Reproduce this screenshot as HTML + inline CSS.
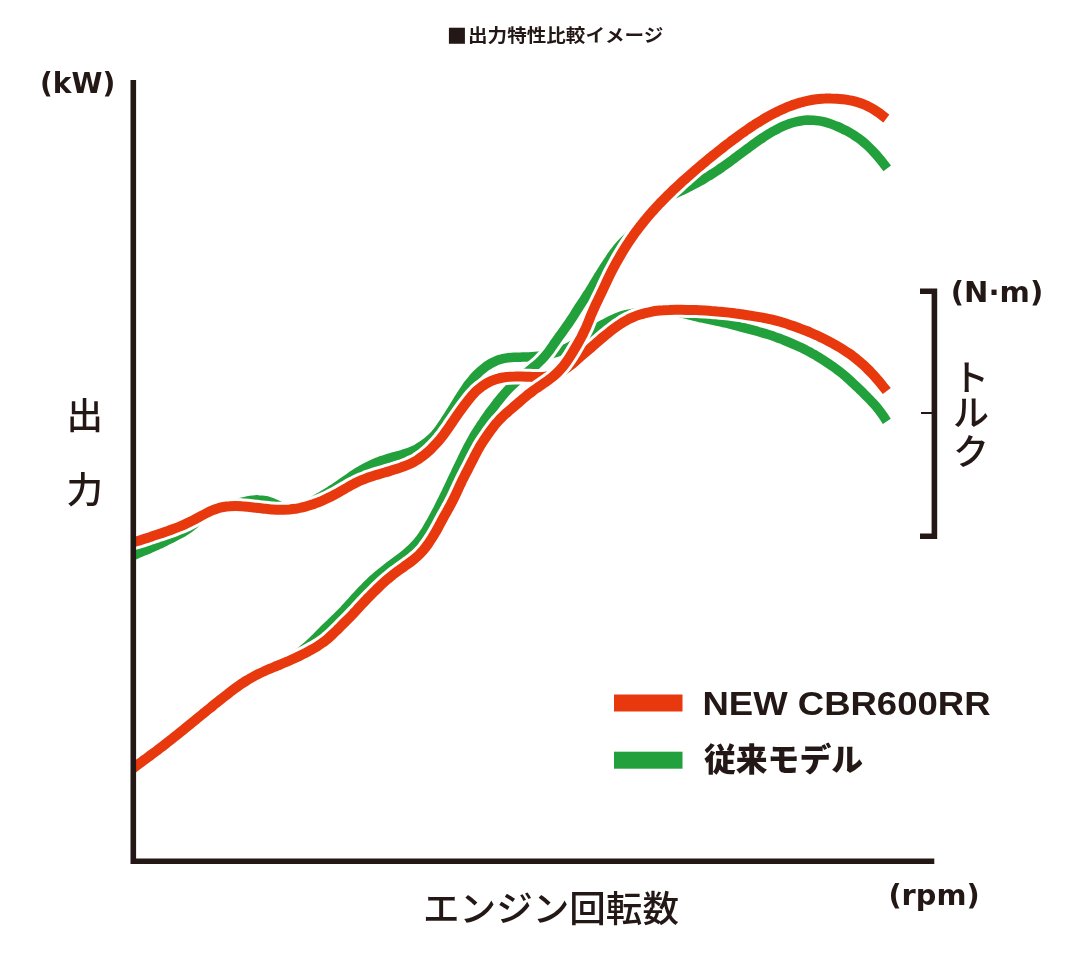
<!DOCTYPE html>
<html lang="ja">
<head>
<meta charset="utf-8">
<title>出力特性比較イメージ</title>
<style>
html,body{margin:0;padding:0;background:#fff;}
body{width:1080px;height:955px;overflow:hidden;}
svg{display:block;}
text{fill:#231815;}
.lat{font-family:"DejaVu Sans","Liberation Sans",sans-serif;font-weight:bold;}
.arial{font-family:"Liberation Sans",sans-serif;font-weight:bold;}
.jp{font-family:"Liberation Sans","Noto Sans CJK JP",sans-serif;}
</style>
</head>
<body>
<svg width="1080" height="955" viewBox="0 0 1080 955">
<rect width="1080" height="955" fill="#fff"/>
<!-- title -->
<text x="447.1" y="40.9" font-size="21" font-family="'DejaVu Sans',sans-serif">■</text>
<text class="jp" x="468" y="42.2" font-size="18" font-weight="700" textLength="195.3" lengthAdjust="spacingAndGlyphs">出力特性比較イメージ</text>
<!-- curves -->
<defs>
<clipPath id="plot"><rect x="132" y="0" width="948" height="955"/></clipPath>
<path id="gt" d="M128.1 558.2C129.0 557.7 131.6 556.3 133.4 555.5C135.2 554.6 137.1 553.8 138.9 553.0C140.7 552.2 142.6 551.5 144.4 550.7C146.3 550.0 148.1 549.3 150.0 548.4C151.9 547.6 154.0 546.7 155.9 545.8C157.8 545.0 159.6 544.1 161.4 543.3C163.2 542.4 165.0 541.5 166.7 540.6C168.5 539.7 170.3 538.8 172.1 537.9C173.9 537.0 175.6 536.1 177.4 535.1C179.2 534.2 181.0 533.3 182.7 532.3C184.4 531.3 186.1 530.3 187.8 529.1C189.4 528.0 190.9 526.9 192.5 525.5C194.1 524.2 195.8 522.6 197.3 521.2C198.9 519.9 200.3 518.5 201.8 517.3C203.4 516.0 204.9 514.8 206.6 513.7C208.2 512.6 210.0 511.6 211.7 510.8C213.5 509.9 215.4 509.1 217.2 508.5C219.1 507.8 221.0 507.3 222.9 506.8C224.9 506.3 226.8 505.8 228.8 505.4C230.7 504.9 232.7 504.5 234.6 504.0C236.6 503.5 238.4 503.0 240.4 502.6C242.5 502.1 244.7 501.5 246.7 501.1C248.8 500.7 250.7 500.3 252.6 500.1C254.6 499.9 256.6 499.8 258.6 499.9C260.5 499.9 262.5 500.1 264.4 500.5C266.4 500.8 268.3 501.4 270.1 502.0C272.0 502.6 273.8 503.5 275.6 504.2C277.5 505.0 279.3 505.9 281.1 506.6C283.0 507.3 284.8 507.9 286.8 508.4C288.8 508.8 291.1 509.1 293.1 509.1C295.1 509.1 297.0 508.8 298.9 508.4C300.8 507.9 302.6 507.2 304.4 506.4C306.2 505.6 307.9 504.6 309.6 503.6C311.3 502.6 313.0 501.4 314.6 500.4C316.3 499.3 318.0 498.2 319.7 497.2C321.4 496.2 323.2 495.2 324.9 494.1C326.6 493.1 328.3 492.0 330.0 490.9C331.6 489.9 333.2 488.8 335.0 487.7C336.7 486.5 338.6 485.2 340.4 484.0C342.1 482.8 343.6 481.7 345.3 480.6C346.9 479.4 348.6 478.3 350.2 477.2C351.9 476.0 353.5 474.9 355.2 473.8C356.9 472.7 358.5 471.6 360.3 470.6C362.0 469.6 363.7 468.6 365.5 467.7C367.2 466.7 369.0 465.8 370.8 465.0C372.6 464.2 374.4 463.4 376.3 462.6C378.3 461.9 380.5 461.0 382.4 460.4C384.4 459.7 386.2 459.1 388.1 458.5C390.0 457.9 391.9 457.4 393.9 456.8C395.8 456.3 397.7 455.8 399.7 455.3C401.6 454.7 403.5 454.2 405.4 453.6C407.3 453.0 409.2 452.4 411.0 451.6C412.9 450.8 414.7 450.0 416.4 449.1C418.2 448.1 419.9 447.1 421.5 446.0C423.2 444.9 424.8 443.8 426.4 442.5C428.0 441.2 429.8 439.8 431.3 438.3C432.9 436.9 434.2 435.5 435.5 434.0C436.8 432.6 438.0 431.0 439.2 429.4C440.4 427.8 441.5 426.1 442.6 424.4C443.8 422.8 444.8 421.1 445.9 419.4C447.0 417.8 448.1 416.1 449.2 414.4C450.2 412.7 451.3 411.0 452.3 409.3C453.4 407.6 454.4 406.0 455.5 404.2C456.6 402.4 457.8 400.4 458.9 398.6C460.0 396.9 461.0 395.2 462.1 393.6C463.2 391.9 464.3 390.2 465.4 388.6C466.6 386.9 467.7 385.3 468.9 383.7C470.2 382.1 471.4 380.6 472.7 379.1C474.0 377.5 475.3 376.1 476.7 374.6C478.1 373.2 479.5 371.8 481.0 370.5C482.5 369.2 484.1 367.9 485.7 366.7C487.3 365.6 488.9 364.5 490.7 363.5C492.5 362.5 494.5 361.4 496.4 360.7C498.3 359.9 500.2 359.3 502.1 358.9C504.0 358.4 506.0 358.1 507.9 357.8C509.9 357.6 511.9 357.4 513.9 357.3C515.9 357.2 517.9 357.2 519.9 357.2C521.9 357.1 523.9 357.1 525.9 357.0C527.9 357.0 529.9 356.9 531.9 356.8C533.9 356.7 535.9 356.5 537.8 356.3C539.8 356.1 541.7 355.8 543.8 355.5C545.8 355.1 548.1 354.6 550.1 354.1C552.1 353.6 554.0 353.1 555.9 352.5C557.8 351.8 559.6 351.1 561.5 350.4C563.3 349.6 565.2 348.8 567.0 348.0C568.7 347.1 570.5 346.1 572.2 345.1C574.0 344.2 575.7 343.1 577.4 342.0C579.0 340.9 580.7 339.8 582.3 338.6C583.9 337.5 585.5 336.3 587.2 335.1C588.9 333.9 590.7 332.5 592.4 331.3C594.1 330.0 595.7 328.9 597.3 327.9C599.0 326.8 600.7 325.7 602.4 324.8C604.2 323.8 605.9 322.9 607.7 322.0C609.5 321.1 611.3 320.2 613.2 319.4C615.0 318.6 616.8 317.7 618.7 317.0C620.5 316.3 622.4 315.6 624.3 315.1C626.2 314.6 628.2 314.2 630.1 313.9C632.1 313.5 634.0 313.3 636.0 313.1C638.1 312.8 640.4 312.5 642.5 312.2C644.5 312.0 646.4 311.7 648.4 311.4C650.4 311.2 652.4 310.9 654.4 310.8C656.4 310.6 658.4 310.5 660.3 310.5C662.3 310.5 664.3 310.6 666.3 310.7C668.3 310.9 670.3 311.1 672.3 311.4C674.3 311.6 676.2 312.0 678.2 312.4C680.2 312.7 682.0 313.2 684.1 313.6C686.1 314.1 688.4 314.6 690.4 315.1C692.4 315.6 694.3 316.1 696.2 316.6C698.2 317.0 700.1 317.5 702.1 317.9C704.0 318.3 706.0 318.7 707.9 319.1C709.9 319.6 711.8 319.9 713.8 320.4C715.8 320.8 717.7 321.2 719.7 321.6C721.6 322.1 723.6 322.5 725.5 323.0C727.4 323.5 729.4 324.0 731.3 324.5C733.2 325.0 735.1 325.5 737.1 326.0C739.1 326.5 741.4 327.1 743.4 327.7C745.4 328.2 747.3 328.7 749.2 329.2C751.1 329.7 753.1 330.2 755.0 330.7C756.9 331.2 758.9 331.8 760.8 332.3C762.7 332.8 764.6 333.4 766.6 334.0C768.5 334.6 770.4 335.2 772.3 335.8C774.2 336.5 776.0 337.2 777.9 337.9C779.8 338.5 781.6 339.3 783.5 340.0C785.4 340.8 787.6 341.7 789.5 342.5C791.4 343.3 793.2 344.1 795.0 344.9C796.9 345.7 798.7 346.5 800.5 347.3C802.3 348.2 804.1 349.0 805.9 349.9C807.7 350.8 809.4 351.8 811.2 352.8C812.9 353.7 814.6 354.8 816.4 355.8C818.1 356.8 819.8 357.9 821.5 359.0C823.1 360.0 824.8 361.1 826.5 362.2C828.2 363.3 829.8 364.4 831.5 365.6C833.2 366.8 835.1 368.1 836.7 369.4C838.4 370.6 839.9 371.8 841.5 373.0C843.0 374.3 844.6 375.6 846.1 376.9C847.6 378.2 849.1 379.5 850.5 380.9C852.0 382.2 853.5 383.6 854.9 385.0C856.4 386.4 857.8 387.7 859.3 389.1C860.7 390.5 862.2 391.9 863.6 393.3C865.0 394.7 866.4 396.1 867.8 397.6C869.3 399.0 870.9 400.7 872.3 402.3C873.7 403.8 875.0 405.2 876.3 406.7C877.5 408.3 878.8 409.8 880.0 411.4C881.2 413.0 882.4 414.6 883.5 416.3C884.6 417.9 886.2 420.5 886.8 421.4"/>
<path id="gp" d="M128.1 772.1C128.9 771.5 131.4 769.7 133.0 768.5C134.6 767.4 136.2 766.2 137.8 765.0C139.4 763.8 141.0 762.6 142.6 761.4C144.2 760.2 145.7 759.0 147.4 757.7C149.0 756.5 150.9 755.1 152.5 753.8C154.2 752.5 155.7 751.4 157.3 750.1C158.9 748.9 160.5 747.7 162.0 746.5C163.6 745.3 165.2 744.0 166.8 742.8C168.3 741.6 169.9 740.3 171.5 739.1C173.1 737.9 174.6 736.6 176.2 735.4C177.8 734.1 179.3 732.9 180.9 731.6C182.5 730.4 184.0 729.2 185.6 727.9C187.2 726.6 189.0 725.1 190.7 723.8C192.3 722.5 193.8 721.3 195.3 720.1C196.9 718.8 198.4 717.6 200.0 716.3C201.5 715.0 203.1 713.8 204.6 712.5C206.2 711.2 207.7 710.0 209.3 708.7C210.8 707.4 212.4 706.2 213.9 704.9C215.5 703.7 217.0 702.4 218.6 701.1C220.2 699.9 221.6 698.7 223.3 697.4C224.9 696.1 226.8 694.7 228.4 693.4C230.1 692.1 231.6 691.0 233.2 689.8C234.8 688.6 236.4 687.4 238.1 686.3C239.7 685.1 241.4 684.0 243.0 682.9C244.7 681.8 246.4 680.7 248.1 679.7C249.8 678.7 251.5 677.7 253.3 676.7C255.0 675.7 256.8 674.8 258.6 673.9C260.4 673.0 262.2 672.1 264.0 671.3C265.8 670.4 267.5 669.7 269.5 668.8C271.4 668.0 273.5 667.2 275.5 666.4C277.4 665.6 279.2 664.8 281.0 664.0C282.8 663.2 284.6 662.3 286.3 661.3C288.0 660.3 289.7 659.3 291.4 658.2C293.1 657.1 294.7 656.0 296.3 654.8C297.9 653.6 299.5 652.4 301.1 651.2C302.7 649.9 304.2 648.7 305.7 647.4C307.3 646.1 308.7 644.8 310.2 643.4C311.7 642.0 313.4 640.4 314.9 638.9C316.4 637.4 317.7 636.0 319.1 634.6C320.5 633.2 321.9 631.7 323.3 630.3C324.7 628.9 326.2 627.5 327.6 626.2C329.1 624.8 330.5 623.5 332.0 622.1C333.4 620.7 334.9 619.3 336.3 617.9C337.8 616.5 339.2 615.1 340.6 613.7C342.0 612.2 343.3 610.9 344.7 609.3C346.1 607.8 347.7 606.1 349.1 604.6C350.5 603.0 351.8 601.6 353.1 600.1C354.5 598.6 355.8 597.1 357.1 595.7C358.5 594.2 359.9 592.7 361.2 591.3C362.6 589.8 364.0 588.4 365.4 586.9C366.8 585.5 368.2 584.1 369.7 582.7C371.1 581.4 372.6 580.0 374.1 578.7C375.6 577.3 377.1 576.0 378.6 574.8C380.1 573.5 381.6 572.3 383.3 571.0C384.9 569.7 386.8 568.3 388.4 567.0C390.1 565.8 391.6 564.6 393.2 563.4C394.8 562.2 396.4 561.0 398.0 559.8C399.6 558.6 401.2 557.4 402.8 556.1C404.3 554.9 405.9 553.6 407.4 552.3C408.9 551.0 410.4 549.7 411.8 548.3C413.2 546.9 414.6 545.5 416.0 544.0C417.3 542.5 418.5 541.1 419.8 539.4C421.1 537.8 422.4 535.9 423.6 534.1C424.7 532.4 425.8 530.8 426.8 529.1C427.8 527.4 428.8 525.7 429.8 523.9C430.8 522.2 431.8 520.4 432.8 518.7C433.7 516.9 434.6 515.2 435.6 513.4C436.5 511.6 437.4 509.8 438.3 508.1C439.2 506.3 440.1 504.5 441.0 502.7C441.9 500.9 442.8 499.2 443.7 497.3C444.6 495.4 445.6 493.3 446.5 491.5C447.4 489.6 448.3 487.9 449.1 486.1C450.0 484.2 450.8 482.4 451.7 480.6C452.5 478.8 453.4 477.0 454.3 475.2C455.1 473.4 456.0 471.6 456.8 469.8C457.7 468.0 458.5 466.2 459.4 464.4C460.3 462.6 461.1 460.8 462.0 459.0C462.9 457.2 463.7 455.4 464.6 453.6C465.5 451.8 466.4 450.1 467.3 448.2C468.3 446.4 469.4 444.3 470.4 442.5C471.4 440.6 472.3 439.0 473.3 437.2C474.3 435.5 475.3 433.8 476.4 432.1C477.5 430.4 478.5 428.7 479.6 427.1C480.7 425.4 481.9 423.7 483.0 422.1C484.1 420.4 485.2 418.8 486.4 417.1C487.5 415.5 488.6 413.8 489.8 412.2C491.0 410.6 492.1 409.0 493.4 407.4C494.6 405.7 496.0 403.9 497.3 402.2C498.6 400.6 499.8 399.1 501.1 397.6C502.4 396.0 503.7 394.5 505.0 393.0C506.3 391.5 507.7 390.0 509.0 388.6C510.4 387.1 511.8 385.7 513.3 384.3C514.7 382.9 516.2 381.6 517.7 380.2C519.1 378.9 520.7 377.6 522.2 376.3C523.7 375.0 525.2 373.8 526.8 372.5C528.5 371.2 530.3 369.8 531.9 368.4C533.5 367.1 535.0 365.9 536.5 364.6C538.0 363.3 539.5 361.9 540.9 360.5C542.3 359.1 543.6 357.6 544.9 356.1C546.2 354.6 547.5 353.1 548.7 351.5C549.9 349.9 551.0 348.2 552.1 346.6C553.3 344.9 554.4 343.3 555.6 341.7C556.7 340.0 557.8 338.4 559.0 336.7C560.2 335.1 561.3 333.6 562.5 331.9C563.7 330.2 565.1 328.3 566.3 326.6C567.5 324.9 568.6 323.3 569.7 321.7C570.8 320.0 571.9 318.3 573.0 316.7C574.1 315.0 575.1 313.3 576.2 311.6C577.3 309.9 578.4 308.2 579.4 306.5C580.5 304.9 581.6 303.2 582.7 301.5C583.8 299.8 585.0 298.2 586.0 296.5C587.1 294.8 588.2 293.2 589.3 291.5C590.4 289.7 591.6 287.7 592.7 285.9C593.7 284.1 594.7 282.5 595.7 280.8C596.8 279.1 597.8 277.4 598.9 275.7C599.9 274.0 601.0 272.3 602.1 270.6C603.2 268.9 604.3 267.2 605.3 265.5C606.4 263.9 607.5 262.2 608.6 260.5C609.7 258.9 610.8 257.2 612.0 255.5C613.1 253.9 614.2 252.3 615.5 250.7C616.7 249.0 618.2 247.2 619.6 245.7C620.9 244.1 622.3 242.7 623.7 241.3C625.1 239.9 626.5 238.5 628.0 237.1C629.4 235.7 630.9 234.4 632.3 233.0C633.7 231.6 635.2 230.2 636.6 228.7C638.0 227.3 639.3 225.9 640.7 224.4C642.1 223.0 643.4 221.5 644.7 220.0C646.0 218.5 647.3 217.0 648.6 215.4C649.9 213.9 651.2 212.4 652.5 210.9C653.9 209.3 655.4 207.5 656.9 206.0C658.3 204.5 659.6 203.2 661.2 201.9C662.7 200.6 664.3 199.5 665.9 198.4C667.6 197.3 669.3 196.4 671.1 195.5C672.9 194.6 674.7 193.8 676.5 192.9C678.3 192.1 680.2 191.2 682.0 190.4C683.8 189.5 685.6 188.6 687.4 187.8C689.2 186.9 690.9 186.0 692.7 185.1C694.6 184.1 696.6 183.0 698.5 182.0C700.3 181.0 702.0 180.1 703.7 179.1C705.4 178.1 707.1 177.0 708.8 176.0C710.5 174.9 712.2 173.9 713.9 172.8C715.6 171.7 717.2 170.6 718.9 169.5C720.5 168.3 722.2 167.2 723.8 166.0C725.5 164.9 727.1 163.7 728.7 162.6C730.3 161.4 731.9 160.2 733.5 159.0C735.2 157.8 737.1 156.4 738.8 155.1C740.4 153.9 742.0 152.7 743.6 151.5C745.2 150.3 746.8 149.1 748.4 148.0C750.0 146.8 751.6 145.6 753.2 144.4C754.8 143.2 756.5 142.1 758.1 140.9C759.7 139.8 761.4 138.7 763.1 137.5C764.7 136.4 766.4 135.4 768.1 134.3C769.8 133.2 771.5 132.2 773.3 131.2C775.0 130.3 776.7 129.3 778.5 128.4C780.4 127.5 782.5 126.5 784.4 125.7C786.3 124.9 788.1 124.2 790.0 123.5C791.9 122.9 793.8 122.3 795.7 121.9C797.7 121.4 799.6 121.0 801.6 120.7C803.6 120.4 805.5 120.2 807.5 120.1C809.5 120.1 811.5 120.1 813.5 120.2C815.5 120.3 817.4 120.6 819.4 120.9C821.4 121.2 823.2 121.6 825.2 122.1C827.2 122.7 829.5 123.4 831.4 124.1C833.4 124.8 835.2 125.5 837.0 126.3C838.8 127.0 840.6 127.9 842.4 128.8C844.2 129.6 846.0 130.6 847.8 131.5C849.5 132.5 851.2 133.5 852.9 134.5C854.6 135.6 856.3 136.7 857.9 137.8C859.5 139.0 861.1 140.2 862.7 141.5C864.2 142.7 865.7 144.0 867.2 145.4C868.7 146.8 870.4 148.5 871.9 150.0C873.3 151.5 874.6 152.9 876.0 154.4C877.3 155.9 878.6 157.5 879.9 159.0C881.1 160.5 882.4 162.1 883.6 163.7C884.8 165.2 886.6 167.6 887.2 168.4"/>
<path id="rt" d="M128.0 543.3C128.9 543.1 131.9 542.5 133.8 542.0C135.7 541.5 137.7 541.0 139.6 540.4C141.5 539.8 143.4 539.2 145.3 538.6C147.2 538.0 149.1 537.3 151.0 536.7C152.9 536.0 154.7 535.4 156.7 534.8C158.6 534.1 160.9 533.4 162.8 532.7C164.8 532.0 166.6 531.4 168.5 530.8C170.4 530.1 172.3 529.4 174.1 528.7C176.0 528.0 177.9 527.3 179.7 526.5C181.6 525.7 183.4 524.9 185.2 524.1C187.0 523.3 188.8 522.4 190.6 521.5C192.4 520.6 194.2 519.7 196.0 518.8C197.7 517.8 199.5 516.8 201.2 515.9C203.0 514.9 204.7 514.0 206.5 513.1C208.3 512.2 210.1 511.3 211.9 510.5C213.7 509.7 215.6 509.0 217.5 508.4C219.4 507.8 221.2 507.4 223.3 507.0C225.3 506.6 227.6 506.3 229.7 506.2C231.7 506.0 233.6 506.0 235.6 506.0C237.6 506.0 239.6 506.1 241.6 506.3C243.6 506.4 245.6 506.6 247.6 506.8C249.6 507.0 251.6 507.2 253.6 507.4C255.5 507.6 257.5 507.9 259.5 508.1C261.5 508.3 263.5 508.6 265.5 508.8C267.5 509.0 269.5 509.2 271.5 509.4C273.4 509.5 275.4 509.7 277.4 509.7C279.4 509.8 281.4 509.8 283.4 509.8C285.4 509.7 287.4 509.6 289.4 509.5C291.4 509.3 293.3 509.1 295.3 508.8C297.4 508.4 299.7 508.0 301.7 507.5C303.7 507.1 305.6 506.6 307.5 506.0C309.4 505.5 311.3 504.8 313.2 504.2C315.1 503.5 316.9 502.8 318.8 502.1C320.7 501.3 322.5 500.5 324.3 499.7C326.1 498.9 328.0 498.1 329.7 497.2C331.5 496.3 333.3 495.4 335.1 494.4C336.8 493.5 338.6 492.5 340.3 491.5C342.1 490.5 343.8 489.5 345.5 488.5C347.2 487.5 349.0 486.5 350.7 485.5C352.5 484.6 354.2 483.6 356.0 482.7C357.8 481.9 359.5 481.0 361.5 480.2C363.4 479.4 365.5 478.6 367.5 477.8C369.4 477.1 371.3 476.5 373.2 475.9C375.1 475.3 377.0 474.8 378.9 474.2C380.8 473.6 382.7 473.0 384.7 472.5C386.6 471.9 388.5 471.3 390.4 470.8C392.3 470.2 394.2 469.6 396.1 469.0C398.0 468.4 400.0 467.8 401.8 467.1C403.7 466.4 405.6 465.8 407.4 465.0C409.3 464.2 411.1 463.4 412.9 462.5C414.6 461.6 416.4 460.6 418.0 459.5C419.7 458.4 421.3 457.3 422.9 456.1C424.5 454.9 426.0 453.6 427.5 452.3C429.1 450.9 430.8 449.3 432.2 447.8C433.7 446.3 435.0 444.9 436.4 443.4C437.7 442.0 439.0 440.4 440.3 438.9C441.5 437.3 442.8 435.8 444.0 434.2C445.2 432.6 446.3 431.0 447.5 429.3C448.7 427.7 449.8 426.0 450.9 424.4C452.0 422.7 453.2 421.1 454.3 419.4C455.4 417.8 456.5 416.1 457.7 414.5C458.8 412.9 460.0 411.2 461.2 409.6C462.3 408.0 463.5 406.4 464.7 404.8C465.9 403.2 467.2 401.6 468.4 400.0C469.7 398.5 470.9 397.0 472.2 395.4C473.6 393.9 475.2 392.1 476.7 390.7C478.2 389.3 479.7 388.1 481.3 386.9C482.8 385.7 484.5 384.6 486.2 383.6C487.9 382.6 489.7 381.7 491.5 380.9C493.4 380.1 495.2 379.4 497.1 378.9C499.0 378.3 500.9 377.9 502.9 377.5C504.9 377.2 506.8 376.9 508.8 376.8C510.8 376.6 512.8 376.5 514.8 376.5C516.8 376.4 518.8 376.5 520.8 376.5C522.8 376.5 524.8 376.6 526.8 376.7C528.8 376.7 530.7 376.9 532.8 376.9C534.9 377.0 537.2 377.1 539.3 377.0C541.3 377.0 543.3 376.9 545.2 376.7C547.2 376.5 549.1 376.2 551.0 375.7C552.9 375.2 554.8 374.5 556.6 373.8C558.4 373.0 560.2 372.1 561.9 371.1C563.7 370.1 565.4 369.0 567.0 367.9C568.6 366.7 570.2 365.5 571.8 364.3C573.3 363.0 574.8 361.7 576.3 360.4C577.9 359.1 579.3 357.8 580.8 356.4C582.3 355.1 583.9 353.8 585.4 352.5C586.9 351.2 588.4 350.0 589.9 348.6C591.4 347.3 592.9 346.1 594.4 344.7C596.0 343.3 597.7 341.8 599.3 340.4C600.9 339.0 602.3 337.8 603.9 336.5C605.4 335.3 607.0 334.0 608.5 332.8C610.1 331.5 611.7 330.3 613.3 329.1C614.9 327.9 616.5 326.7 618.1 325.5C619.8 324.4 621.4 323.3 623.1 322.2C624.8 321.2 626.6 320.2 628.3 319.3C630.1 318.4 631.9 317.6 633.8 316.8C635.6 316.1 637.5 315.4 639.4 314.8C641.3 314.2 643.2 313.6 645.1 313.1C647.1 312.6 649.0 312.2 651.0 311.8C652.9 311.4 654.8 311.1 656.9 310.8C658.9 310.5 661.3 310.3 663.3 310.2C665.4 310.0 667.3 309.9 669.3 309.9C671.3 309.8 673.3 309.8 675.3 309.8C677.3 309.8 679.3 309.8 681.3 309.8C683.3 309.8 685.3 309.8 687.3 309.9C689.3 309.9 691.3 310.0 693.3 310.0C695.3 310.1 697.3 310.1 699.3 310.2C701.3 310.3 703.3 310.4 705.3 310.5C707.3 310.6 709.3 310.7 711.3 310.9C713.3 311.0 715.3 311.2 717.3 311.4C719.3 311.5 721.3 311.7 723.3 312.0C725.2 312.2 727.1 312.4 729.2 312.6C731.3 312.9 733.6 313.2 735.7 313.5C737.7 313.7 739.6 314.0 741.6 314.3C743.6 314.6 745.6 314.9 747.5 315.2C749.5 315.5 751.5 315.8 753.5 316.1C755.4 316.4 757.4 316.8 759.4 317.1C761.4 317.4 763.3 317.8 765.3 318.2C767.3 318.6 769.2 319.0 771.2 319.4C773.1 319.9 775.0 320.4 777.0 320.9C778.9 321.4 780.8 321.9 782.7 322.5C784.6 323.1 786.6 323.7 788.4 324.4C790.3 325.0 792.2 325.6 794.1 326.3C796.0 327.0 797.8 327.6 799.8 328.4C801.7 329.1 803.9 329.9 805.8 330.7C807.8 331.5 809.5 332.2 811.4 333.0C813.2 333.8 815.0 334.6 816.9 335.4C818.7 336.3 820.5 337.1 822.3 338.0C824.1 338.8 825.9 339.7 827.6 340.7C829.4 341.6 831.2 342.5 832.9 343.5C834.7 344.5 836.4 345.4 838.1 346.5C839.9 347.5 841.6 348.5 843.2 349.6C844.9 350.7 846.6 351.8 848.2 352.9C849.9 354.1 851.5 355.2 853.1 356.4C854.7 357.7 856.3 358.9 857.8 360.2C859.4 361.4 860.8 362.7 862.4 364.1C863.9 365.4 865.6 367.0 867.1 368.5C868.6 369.9 870.0 371.3 871.3 372.8C872.7 374.2 874.1 375.7 875.4 377.2C876.7 378.7 878.1 380.2 879.3 381.7C880.6 383.2 881.9 384.8 883.1 386.4C884.4 387.9 886.2 390.3 886.8 391.1"/>
<path id="rp" d="M128.1 772.6C128.8 771.9 131.1 770.0 132.7 768.7C134.2 767.5 135.8 766.2 137.4 765.0C138.9 763.8 140.6 762.6 142.2 761.4C143.8 760.2 145.4 759.1 147.0 757.9C148.6 756.7 150.2 755.6 151.9 754.3C153.5 753.1 155.4 751.7 157.1 750.5C158.7 749.2 160.3 748.0 161.9 746.8C163.4 745.6 165.0 744.4 166.6 743.1C168.2 741.9 169.7 740.7 171.3 739.4C172.9 738.2 174.4 737.0 176.0 735.7C177.6 734.5 179.1 733.2 180.7 731.9C182.2 730.7 183.8 729.4 185.3 728.2C186.9 726.9 188.5 725.6 190.0 724.4C191.5 723.1 193.1 721.8 194.6 720.6C196.2 719.3 197.7 718.0 199.3 716.8C200.8 715.5 202.3 714.3 203.9 713.0C205.5 711.7 207.3 710.2 209.0 708.9C210.6 707.6 212.1 706.4 213.6 705.1C215.2 703.9 216.8 702.6 218.3 701.4C219.9 700.1 221.5 698.9 223.0 697.7C224.6 696.4 226.2 695.2 227.8 694.0C229.4 692.7 230.9 691.5 232.5 690.3C234.1 689.1 235.7 687.9 237.4 686.8C239.0 685.6 240.6 684.4 242.3 683.3C243.9 682.2 245.6 681.1 247.3 680.1C249.0 679.0 250.8 678.0 252.5 677.1C254.3 676.1 256.0 675.2 257.8 674.3C259.7 673.3 261.8 672.3 263.7 671.5C265.6 670.6 267.3 669.8 269.2 669.0C271.0 668.3 272.9 667.5 274.7 666.7C276.6 666.0 278.4 665.2 280.3 664.5C282.1 663.7 284.0 662.9 285.8 662.2C287.7 661.4 289.5 660.6 291.3 659.8C293.1 659.0 295.0 658.1 296.8 657.3C298.6 656.4 300.3 655.5 302.1 654.6C303.9 653.7 305.7 652.8 307.5 651.8C309.2 650.9 311.0 650.0 312.7 649.0C314.5 648.0 316.1 647.0 317.9 645.9C319.6 644.8 321.6 643.5 323.2 642.3C324.9 641.1 326.4 639.8 327.9 638.6C329.4 637.3 330.9 635.9 332.4 634.5C333.8 633.2 335.2 631.8 336.7 630.4C338.1 629.0 339.5 627.6 340.9 626.1C342.4 624.7 343.8 623.3 345.2 621.9C346.6 620.5 348.0 619.1 349.4 617.7C350.8 616.3 352.2 614.8 353.6 613.3C354.9 611.9 356.3 610.4 357.6 608.9C359.0 607.5 360.4 606.0 361.7 604.5C363.1 603.1 364.4 601.7 365.8 600.2C367.3 598.7 368.9 597.0 370.4 595.5C371.8 594.0 373.2 592.7 374.6 591.3C376.0 589.8 377.4 588.4 378.9 587.1C380.3 585.7 381.8 584.3 383.3 582.9C384.7 581.6 386.2 580.3 387.7 579.0C389.3 577.7 390.8 576.4 392.4 575.2C394.0 573.9 395.6 572.8 397.2 571.6C398.8 570.4 400.4 569.2 402.0 568.1C403.7 566.9 405.3 565.8 406.9 564.6C408.6 563.4 410.2 562.3 411.8 561.0C413.3 559.8 414.9 558.6 416.4 557.2C417.9 555.9 419.6 554.3 421.0 552.7C422.5 551.2 423.7 549.8 424.9 548.2C426.2 546.7 427.3 545.0 428.5 543.4C429.6 541.8 430.7 540.1 431.8 538.4C432.9 536.7 433.9 535.0 434.9 533.3C435.9 531.6 436.9 529.8 437.9 528.1C438.8 526.3 439.7 524.5 440.7 522.8C441.6 521.0 442.6 519.3 443.5 517.5C444.5 515.7 445.5 514.0 446.5 512.3C447.4 510.5 448.4 508.8 449.4 507.0C450.4 505.3 451.3 503.6 452.2 501.7C453.2 499.9 454.2 497.8 455.1 495.9C456.0 494.0 456.8 492.3 457.6 490.5C458.4 488.7 459.3 486.8 460.1 485.0C461.0 483.2 461.8 481.4 462.7 479.6C463.6 477.8 464.5 476.1 465.4 474.3C466.3 472.5 467.3 470.7 468.2 468.9C469.1 467.2 470.0 465.4 470.9 463.6C471.8 461.8 472.7 460.0 473.6 458.3C474.5 456.5 475.4 454.7 476.4 452.9C477.3 451.1 478.2 449.4 479.2 447.7C480.2 445.9 481.2 444.3 482.4 442.5C483.5 440.8 484.8 438.9 486.0 437.2C487.2 435.4 488.3 433.9 489.4 432.2C490.6 430.6 491.8 429.0 493.0 427.4C494.2 425.8 495.4 424.3 496.7 422.8C498.1 421.3 499.4 419.8 500.8 418.4C502.2 417.0 503.7 415.6 505.2 414.2C506.6 412.9 508.2 411.6 509.7 410.3C511.2 409.0 512.7 407.7 514.2 406.4C515.7 405.1 517.2 403.8 518.8 402.5C520.3 401.1 521.8 399.8 523.3 398.5C524.8 397.2 526.3 396.0 527.9 394.7C529.5 393.4 531.4 392.0 533.1 390.8C534.8 389.5 536.3 388.5 538.0 387.3C539.6 386.2 541.3 385.1 542.9 383.9C544.6 382.8 546.2 381.7 547.9 380.5C549.5 379.3 551.1 378.1 552.6 376.9C554.2 375.6 555.7 374.3 557.1 372.9C558.5 371.5 559.9 370.1 561.2 368.6C562.5 367.1 563.7 365.5 564.9 363.9C566.1 362.3 567.3 360.7 568.4 359.0C569.5 357.4 570.6 355.7 571.6 354.0C572.7 352.3 573.7 350.6 574.7 348.8C575.8 347.0 577.0 345.0 578.0 343.2C579.0 341.4 580.0 339.7 580.9 338.0C581.8 336.2 582.8 334.4 583.6 332.6C584.5 330.8 585.4 329.0 586.2 327.2C587.0 325.4 587.7 323.5 588.5 321.7C589.3 319.8 590.0 318.0 590.7 316.1C591.5 314.3 592.3 312.4 593.1 310.6C593.9 308.7 594.7 306.9 595.5 305.1C596.4 303.3 597.2 301.5 598.1 299.7C599.0 297.9 599.9 296.1 600.7 294.3C601.6 292.5 602.4 290.8 603.3 288.9C604.1 287.0 605.1 284.9 606.0 283.0C606.9 281.1 607.7 279.3 608.6 277.5C609.4 275.8 610.3 274.0 611.2 272.2C612.2 270.4 613.1 268.6 614.0 266.9C615.0 265.1 616.0 263.4 616.9 261.6C617.9 259.9 618.9 258.1 619.9 256.4C620.9 254.7 621.9 253.0 623.0 251.2C624.0 249.5 625.0 247.8 626.1 246.1C627.2 244.5 628.3 242.8 629.4 241.1C630.5 239.5 631.6 237.8 632.8 236.2C633.9 234.5 635.0 233.0 636.3 231.3C637.5 229.6 638.9 227.8 640.2 226.1C641.5 224.5 642.7 223.0 643.9 221.4C645.2 219.9 646.5 218.3 647.8 216.8C649.1 215.3 650.4 213.8 651.7 212.3C653.0 210.8 654.4 209.3 655.7 207.8C657.1 206.3 658.4 204.9 659.8 203.4C661.2 202.0 662.6 200.6 664.0 199.1C665.4 197.7 666.8 196.3 668.2 194.9C669.7 193.5 671.1 192.1 672.5 190.7C674.0 189.3 675.4 188.0 676.9 186.6C678.4 185.2 679.8 183.9 681.3 182.5C682.9 181.1 684.6 179.6 686.2 178.2C687.7 176.8 689.2 175.5 690.7 174.2C692.2 172.9 693.7 171.6 695.2 170.3C696.7 169.0 698.2 167.7 699.8 166.4C701.3 165.1 702.8 163.8 704.4 162.6C705.9 161.3 707.4 160.0 709.0 158.7C710.5 157.5 712.1 156.2 713.6 154.9C715.2 153.7 716.8 152.4 718.3 151.2C719.9 149.9 721.5 148.7 723.0 147.5C724.6 146.2 726.2 145.0 727.8 143.8C729.4 142.6 730.9 141.4 732.6 140.2C734.2 138.9 736.1 137.5 737.8 136.3C739.5 135.1 741.0 134.0 742.7 132.8C744.3 131.7 745.9 130.5 747.6 129.4C749.2 128.3 750.9 127.1 752.6 126.0C754.2 124.9 755.9 123.8 757.6 122.8C759.3 121.7 761.0 120.7 762.7 119.6C764.4 118.6 766.1 117.6 767.9 116.6C769.6 115.6 771.4 114.7 773.2 113.8C774.9 112.8 776.7 111.9 778.5 111.1C780.3 110.2 782.1 109.4 784.0 108.6C785.8 107.8 787.6 107.0 789.5 106.3C791.4 105.5 793.6 104.7 795.6 104.1C797.6 103.4 799.4 102.9 801.3 102.3C803.3 101.8 805.2 101.3 807.2 100.9C809.1 100.5 811.1 100.1 813.0 99.8C815.0 99.5 817.0 99.2 819.0 99.0C821.0 98.8 823.0 98.6 824.9 98.6C826.9 98.5 828.9 98.4 830.9 98.5C832.9 98.5 834.9 98.6 836.9 98.7C838.9 98.8 840.9 99.0 842.9 99.2C844.9 99.4 846.9 99.7 848.8 100.1C850.8 100.4 852.7 100.8 854.7 101.3C856.7 101.8 858.9 102.5 860.8 103.2C862.8 103.9 864.6 104.7 866.4 105.5C868.2 106.4 870.0 107.3 871.7 108.3C873.4 109.3 875.1 110.4 876.8 111.5C878.5 112.6 880.1 113.7 881.7 114.9C883.3 116.1 885.6 118.0 886.4 118.6"/>
</defs>
<g clip-path="url(#plot)" fill="none">
<use href="#gt" stroke="#22a03b" stroke-width="9.5"/>
<use href="#gp" stroke="#fff" stroke-width="15.5"/>
<use href="#gp" stroke="#22a03b" stroke-width="9.5"/>
<use href="#rt" stroke="#fff" stroke-width="16.0"/>
<use href="#rt" stroke="#e8380d" stroke-width="10.0"/>
<use href="#rp" stroke="#fff" stroke-width="16.0"/>
<use href="#rp" stroke="#e8380d" stroke-width="10.0"/>
</g>
<!-- axes -->
<path d="M133.3 80V861.2H934.3" fill="none" stroke="#231815" stroke-width="5.6" stroke-linejoin="miter"/>
<!-- torque bracket -->
<path d="M920 291.3H934.4V536.3H920" fill="none" stroke="#231815" stroke-width="5.6" stroke-linejoin="miter"/>
<path d="M921 413H932" fill="none" stroke="#231815" stroke-width="2"/>
<!-- labels -->
<text class="lat" x="40" y="93.2" font-size="27.5" textLength="75.2" lengthAdjust="spacingAndGlyphs">(kW)</text>
<text class="lat" x="950.8" y="302" font-size="27.5" textLength="92.4" lengthAdjust="spacingAndGlyphs">(N·m)</text>
<text class="lat" x="888.4" y="904.8" font-size="27.5" textLength="91.2" lengthAdjust="spacingAndGlyphs">(rpm)</text>
<text class="jp" x="66.5" y="429" font-size="36.5" font-weight="500">出</text>
<text class="jp" x="66.5" y="503" font-size="36.5" font-weight="500">力</text>
<text class="jp" x="953" y="391" font-size="36" font-weight="500">ト</text>
<text class="jp" x="953" y="426" font-size="36" font-weight="500">ル</text>
<text class="jp" x="953" y="465" font-size="36" font-weight="500">ク</text>
<text class="jp" x="423" y="922" font-size="36" font-weight="500" textLength="256" lengthAdjust="spacingAndGlyphs">エンジン回転数</text>
<!-- legend -->
<rect x="614" y="694.5" width="68.5" height="17" fill="#e8380d"/>
<rect x="614" y="751.7" width="68.5" height="17" fill="#22a03b"/>
<text class="arial" x="702.5" y="715.4" font-size="33.5" textLength="288" lengthAdjust="spacingAndGlyphs">NEW CBR600RR</text>
<text class="jp" x="704" y="771" font-size="31.5" font-weight="900" textLength="159" lengthAdjust="spacingAndGlyphs">従来モデル</text>
</svg>
</body>
</html>
